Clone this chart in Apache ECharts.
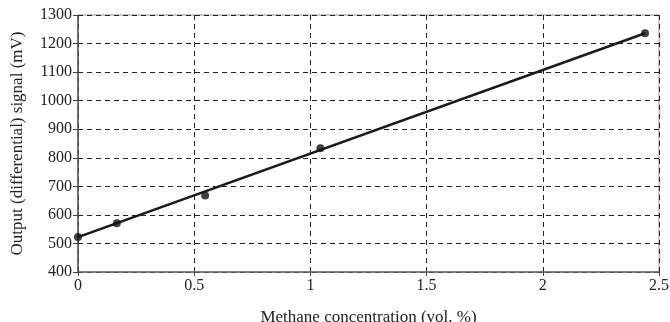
<!DOCTYPE html>
<html>
<head>
<meta charset="utf-8">
<script src="https://cdn.jsdelivr.net/npm/echarts@6/dist/echarts.min.js"></script>
<style>
    html, body { margin: 0; padding: 0; background: #fff; }
    #chart { width: 670px; height: 322px; }
</style>
</head>
<body>
<div id="chart"></div>
<script>
// measured points
var methane = [0, 0.167, 0.547, 1.043, 2.44];
var signal = [523, 571, 668, 833, 1236];
// trend line endpoints
var fitX = [0, 2.44];
var fitY = [522, 1236];

var xTicks = [0, 0.5, 1, 1.5, 2, 2.5];
var yTicks = [400, 500, 600, 700, 800, 900, 1000, 1100, 1200, 1300];

var points = methane.map(function (x, i) { return [x, signal[i]]; });
var fit = fitX.map(function (x, i) { return [x, fitY[i]]; });

var chart = echarts.init(document.getElementById('chart'));

var serif = 'Liberation Serif';
var gridDash = {
    show: true,
    lineStyle: { color: '#222', type: [5, 4], width: 1 }
};

var option = {
    animation: false,
    textStyle: { fontFamily: serif },
    grid: {
        left: 78, right: 11, top: 15, bottom: 50,
        outerBoundsMode: 'none',
        containLabel: false,
        show: true,
        borderColor: '#999',
        borderWidth: 1
    },
    xAxis: {
        type: 'value',
        min: xTicks[0],
        max: xTicks[xTicks.length - 1],
        interval: 0.5,
        name: 'Methane concentration (vol. %)',
        nameLocation: 'middle',
        nameGap: 37,
        nameTextStyle: { fontFamily: serif, fontSize: 17, color: '#222' },
        axisLine: { show: true, lineStyle: { color: '#666', width: 1.5 } },
        axisTick: { show: true, length: 4, inside: false, lineStyle: { color: '#444' } },
        axisLabel: {
            fontFamily: serif, fontSize: 16, color: '#222', margin: 6,
            formatter: function (v) { return String(v); }
        },
        splitLine: gridDash
    },
    yAxis: {
        type: 'value',
        min: yTicks[0],
        max: yTicks[yTicks.length - 1],
        interval: 100,
        name: 'Output (differential) signal (mV)',
        nameLocation: 'middle',
        nameRotate: 90,
        nameGap: 52,
        nameTextStyle: { fontFamily: serif, fontSize: 17, color: '#222' },
        axisLine: { show: true, lineStyle: { color: '#555', width: 1.5 } },
        axisTick: { show: true, length: 5, lineStyle: { color: '#444' } },
        axisLabel: {
            fontFamily: serif, fontSize: 16, color: '#222', margin: 6,
            formatter: function (v) { return String(v); }
        },
        splitLine: gridDash
    },
    series: [
        {
            name: 'fit',
            type: 'line',
            data: fit,
            symbol: 'none',
            lineStyle: { color: '#1a1a1a', width: 2.5 },
            z: 3
        },
        {
            name: 'measured',
            type: 'scatter',
            data: points,
            symbol: 'circle',
            symbolSize: 8,
            itemStyle: { color: '#111' },
            z: 4
        }
    ]
};

chart.setOption(option);
</script>
</body>
</html>
